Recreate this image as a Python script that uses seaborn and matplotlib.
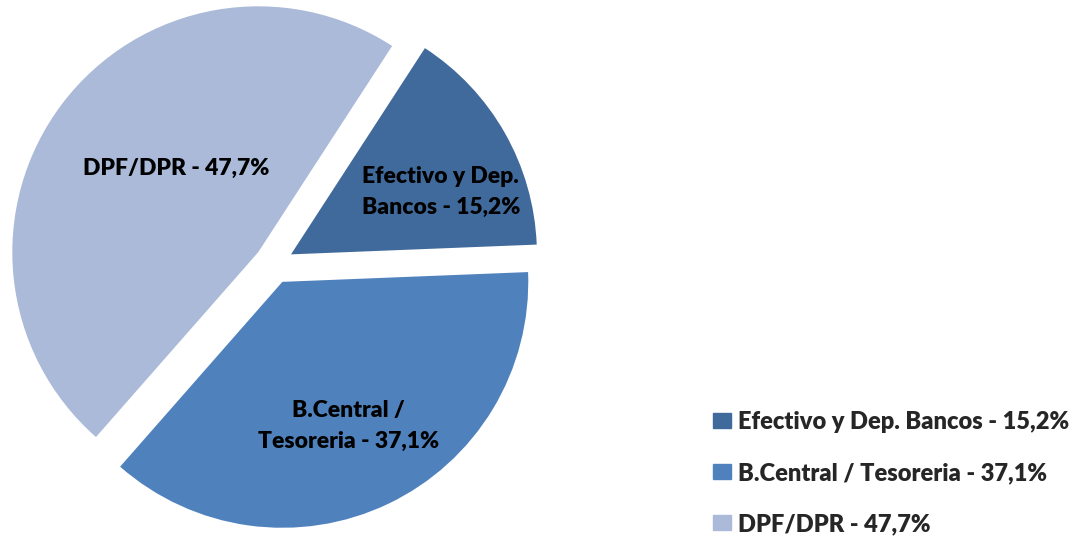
import matplotlib
matplotlib.use('Agg')
import matplotlib.pyplot as plt
import matplotlib.patches as mpatches
import seaborn as sns

# Data
categories = ['Efectivo y Dep. Bancos', 'B.Central / Tesoreria', 'DPF/DPR']
inner_labels = ['Efectivo y Dep.\nBancos - 15,2%', 'B.Central /\nTesoreria - 37,1%', 'DPF/DPR - 47,7%']
values = [15.2, 37.1, 47.7]
value_labels = ['15,2%', '37,1%', '47,7%']

sns.set_theme(style='white')
plt.rcParams['font.family'] = ['Lato', 'DejaVu Sans']
colors = sns.color_palette(['#416a9c', '#4f81bd', '#aabad8'])

fig = plt.figure(figsize=(10.79, 5.39), dpi=100)
ax = fig.add_axes([3.4 / 1079, 4.4 / 539, 541 / 1079, 541 / 539])

wedges, _ = ax.pie(values, colors=colors, startangle=57, counterclock=False,
                   explode=[0.08, 0.08, 0.08], radius=1,
                   wedgeprops=dict(linewidth=0))
ax.set_xlim(-1.1, 1.1)
ax.set_ylim(-1.1, 1.1)
ax.set_aspect('equal')
ax.axis('off')

# label spots inside each slice
label_pos = [(0.679, 0.293), (0.305, -0.659), (-0.398, 0.390)]
for txt, (x, y) in zip(inner_labels, label_pos):
    ax.text(x, y, txt, ha='center', va='center', fontsize=16.5, fontweight='heavy',
            color='black', linespacing=1.55)

handles = [mpatches.Patch(color=c, label=f'{n} - {v}') for c, n, v in zip(colors, categories, value_labels)]
fig.legend(handles=handles, loc='upper left', bbox_to_anchor=(713 / 1079, 1 - 411 / 539),
           frameon=False, prop={'weight': 'heavy', 'size': 17},
           handlelength=0.75, handleheight=0.6, handletextpad=0.3,
           labelspacing=1.23, borderpad=0, borderaxespad=0)

fig.savefig('out.png', dpi=100)
